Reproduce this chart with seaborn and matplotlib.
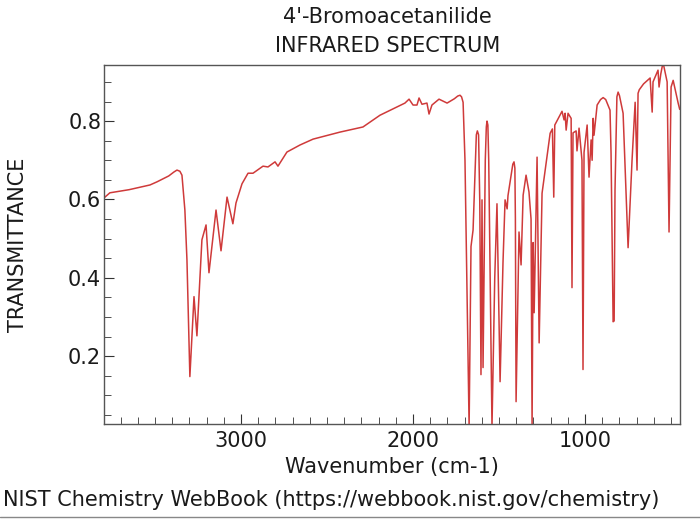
import matplotlib
matplotlib.use("Agg")
import matplotlib.pyplot as plt
from matplotlib.ticker import MultipleLocator
from matplotlib.lines import Line2D
import seaborn as sns
import pandas as pd

title_name = "4'-Bromoacetanilide"
title_kind = "INFRARED SPECTRUM"
x_label = "Wavenumber (cm-1)"
y_label = "TRANSMITTANCE"
footer = "NIST Chemistry WebBook (https://webbook.nist.gov/chemistry)"

wavenumber = [
    3796, 3762, 3650, 3529, 3488, 3420, 3390, 3372, 3355, 3343, 3326, 3314, 3297, 3273, 3256,
    3227, 3203, 3186, 3145, 3116, 3081, 3047, 3029, 2994, 2959, 2930, 2872, 2843,
    2802, 2785, 2733, 2657, 2581, 2424, 2291, 2192, 2047, 2023, 2000, 1977, 1965,
    1948, 1919, 1907, 1890, 1849, 1802, 1760, 1740, 1727, 1718, 1709, 1698, 1674, 1663, 1651,
    1632, 1626, 1619, 1612, 1605, 1599, 1593, 1580, 1574, 1570, 1565, 1560, 1541, 1525, 1512,
    1494, 1477, 1465, 1453, 1448, 1420, 1413, 1408, 1405, 1401, 1384, 1372, 1360, 1343, 1326,
    1314, 1308, 1302, 1296, 1279, 1267, 1250, 1203, 1190, 1182, 1176, 1134, 1122, 1116, 1110,
    1099, 1081, 1076, 1070, 1052, 1047, 1035, 1018, 1012, 1006, 988, 977, 965, 959, 953,
    948, 930, 910, 895, 880, 855, 849, 837, 831, 826, 815, 808, 800, 779, 750, 727, 709, 698,
    692, 685, 660, 622, 610, 605, 576, 570, 560, 547, 523, 512, 500, 488, 459, 450,
]
transmittance = [
    0.604, 0.617, 0.625, 0.637, 0.645, 0.660, 0.670, 0.675, 0.672, 0.662, 0.573, 0.446, 0.148,
    0.352, 0.252, 0.497, 0.535, 0.413, 0.573, 0.469, 0.606, 0.538, 0.591, 0.640, 0.667, 0.667,
    0.685, 0.683, 0.696, 0.685, 0.721, 0.739, 0.754, 0.772, 0.785, 0.815, 0.846, 0.856, 0.841,
    0.841, 0.859, 0.843, 0.846, 0.818, 0.841, 0.856, 0.846, 0.857, 0.864, 0.866, 0.862, 0.848,
    0.700, 0.020, 0.480, 0.522, 0.765, 0.775, 0.765, 0.594, 0.153, 0.599, 0.171, 0.700, 0.785,
    0.800, 0.790, 0.700, 0.020, 0.400, 0.589, 0.135, 0.440, 0.599, 0.576, 0.610, 0.690, 0.696,
    0.680, 0.550, 0.084, 0.517, 0.433, 0.611, 0.662, 0.619, 0.550, 0.020, 0.490, 0.311, 0.708,
    0.234, 0.616, 0.769, 0.780, 0.606, 0.790, 0.825, 0.803, 0.820, 0.777, 0.820, 0.807, 0.375,
    0.770, 0.775, 0.724, 0.782, 0.700, 0.166, 0.720, 0.790, 0.657, 0.752, 0.700, 0.807, 0.764,
    0.841, 0.855, 0.860, 0.855, 0.828, 0.718, 0.288, 0.290, 0.624, 0.862, 0.874, 0.865, 0.820,
    0.477, 0.700, 0.848, 0.675, 0.871, 0.880, 0.895, 0.910, 0.823, 0.900, 0.930, 0.887, 0.920,
    0.950, 0.900, 0.517, 0.887, 0.904, 0.846, 0.830,
]

df = pd.DataFrame({"wn": wavenumber, "T": transmittance})

sns.set_style("ticks")
plt.rcParams["font.family"] = ["DejaVu Sans"]

fig = plt.figure(figsize=(7.0, 5.29), dpi=100)
ax = fig.add_axes([0.1486, 0.1985, 0.8224, 0.6785])

sns.lineplot(data=df, x="wn", y="T", sort=False, estimator=None,
             color="#cf3a3a", linewidth=1.1, ax=ax)

ax.set_xlim(3796, 450)
ax.set_ylim(0.027, 0.943)
ax.xaxis.set_major_locator(MultipleLocator(1000))
ax.xaxis.set_minor_locator(MultipleLocator(100))
ax.yaxis.set_major_locator(MultipleLocator(0.2))
ax.yaxis.set_minor_locator(MultipleLocator(0.05))
ax.tick_params(which="both", direction="in", labelsize=15, color="#333333",
               labelcolor="#1a1a1a")
ax.tick_params(axis="y", which="major", pad=2)
ax.tick_params(axis="x", which="major", pad=5)
ax.tick_params(which="major", length=7)
ax.tick_params(which="minor", length=5)
for s in ax.spines.values():
    s.set_color("#555555")
    s.set_linewidth(1.0)
    s.set_visible(True)

ax.set_xlabel(x_label, fontsize=15, color="#1a1a1a", va="top")
ax.xaxis.set_label_coords(0.5, -0.092)
ax.set_ylabel(y_label, fontsize=15, color="#1a1a1a")
ax.yaxis.set_label_coords(-0.132, 0.5)

fig.text(0.554, 0.968, title_name, ha="center", va="center", fontsize=15, color="#1a1a1a")
fig.text(0.554, 0.913, title_kind, ha="center", va="center", fontsize=15, color="#1a1a1a")
fig.text(0.004, 0.055, footer, ha="left", va="center", fontsize=15, color="#1a1a1a")
fig.add_artist(Line2D([0, 1], [0.023, 0.023], transform=fig.transFigure,
                      color="#888888", linewidth=1.0))

fig.savefig("out.png", dpi=100, facecolor="white")
